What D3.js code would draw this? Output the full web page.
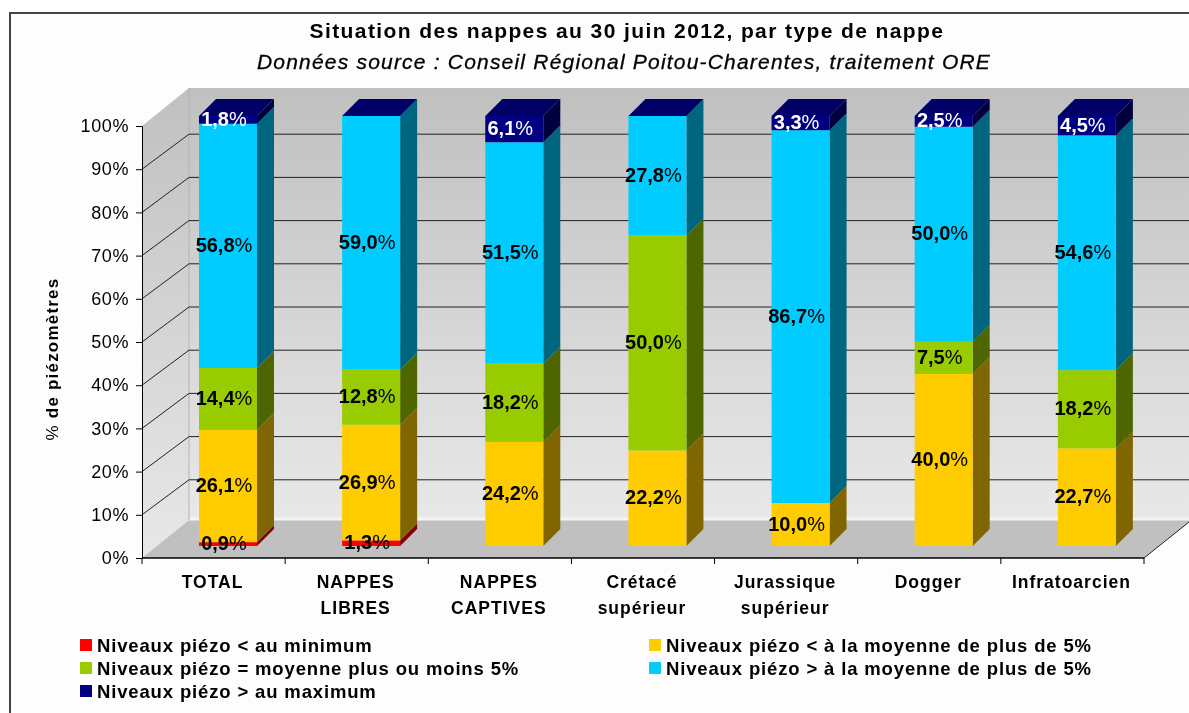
<!DOCTYPE html>
<html>
<head>
<meta charset="utf-8">
<script src="https://cdn.jsdelivr.net/npm/d3@7"></script>
<style>
  html, body { margin: 0; background: #fff; }
  svg { display: block; filter: blur(0.45px); }
  text { font-family: "Liberation Sans", Arial, sans-serif; fill: #000; }
</style>
</head>
<body>
<svg width="1189" height="713"></svg>
<script>
// données
const categories = [["TOTAL"], ["NAPPES", "LIBRES"], ["NAPPES", "CAPTIVES"], ["Crétacé", "supérieur"],
                    ["Jurassique", "supérieur"], ["Dogger"], ["Infratoarcien"]];
const sousMinimum = [0.9, 1.3, 0, 0, 0, 0, 0];
const sousMoyenne = [26.1, 26.9, 24.2, 22.2, 10.0, 40.0, 22.7];
const moyenne = [14.4, 12.8, 18.2, 50.0, 0, 7.5, 18.2];
const surMoyenne = [56.8, 59.0, 51.5, 27.8, 86.7, 50.0, 54.6];
const surMaximum = [1.8, 0, 6.1, 0, 3.3, 2.5, 4.5];
const seriesNames = ["Niveaux piézo < au minimum", "Niveaux piézo < à la moyenne de plus de 5%",
                     "Niveaux piézo = moyenne plus ou moins 5%", "Niveaux piézo > à la moyenne de plus de 5%",
                     "Niveaux piézo > au maximum"];
const seriesValues = [sousMinimum, sousMoyenne, moyenne, surMoyenne, surMaximum];
const colors = ["#ff0000", "#ffcc00", "#99cc00", "#00ccff", "#000080"];
const sideColors = ["#800000", "#806600", "#4d6600", "#006680", "#000040"];

const svg = d3.select("svg");

// cadre
svg.append("rect").attr("x", 10).attr("y", 13).attr("width", 1190).attr("height", 710)
   .attr("fill", "#fdfdfd").attr("stroke", "#444").attr("stroke-width", 2);

// echelles
const plotLeft = 142, plotRight = 1144, plotBottom = 558, plotTop = 126;
const depthX = 47, depthY = -38;
const barDepth = 17;
const x = d3.scaleBand().domain(d3.range(categories.length)).range([plotLeft, plotRight]);
const y = d3.scaleLinear().domain([0, 100]).range([plotBottom, plotTop]);
const yBar = d3.scaleLinear().domain([0, 100]).range([546, 116]);

const defs = svg.append("defs");
const grad = defs.append("linearGradient").attr("id", "wall").attr("x1", 0).attr("x2", 0).attr("y1", 0).attr("y2", 1);
grad.append("stop").attr("offset", 0).attr("stop-color", "#c0c0c0");
grad.append("stop").attr("offset", 1).attr("stop-color", "#e8e8e8");

// murs et sol
svg.append("path")
   .attr("d", `M${plotLeft},${plotTop}L${plotLeft + depthX},${plotTop + depthY}V${plotBottom + depthY}L${plotLeft},${plotBottom}Z`)
   .attr("fill", "url(#wall)");
svg.append("rect")
   .attr("x", plotLeft + depthX).attr("y", plotTop + depthY)
   .attr("width", 1189 - plotLeft - depthX).attr("height", plotBottom - plotTop)
   .attr("fill", "url(#wall)");
svg.append("path")
   .attr("d", `M${plotLeft},${plotBottom}L${plotLeft + depthX},${plotBottom + depthY}H1189V${plotBottom + depthY + 2}L${plotRight},${plotBottom}Z`)
   .attr("fill", "#c0c0c0");
svg.append("path")
   .attr("d", `M${plotLeft + depthX},${plotBottom + depthY - 1}H1189`)
   .attr("stroke", "#f4f4f4").attr("stroke-width", 3);
svg.append("path")
   .attr("d", `M${plotLeft + depthX},${plotTop + depthY}V${plotBottom + depthY}`)
   .attr("stroke", "#b4b4b4");

// lignes de grille
const ticks = d3.range(10, 101, 10);
svg.append("g").selectAll("path")
   .data(ticks.filter(t => t < 100))
   .enter()
   .append("path")
   .attr("d", t => `M${plotLeft},${y(t)}L${plotLeft + depthX},${y(t) + depthY + 3}H1189`)
   .attr("fill", "none")
   .attr("stroke", "#222")
   .attr("stroke-width", 1);

// barres empilees
categories.forEach((c, i) => {
  const bx = x(i) + 57;
  const bw = 58;
  let cum = 0;
  seriesValues.forEach((values, s) => {
    const y0 = yBar(cum);
    cum += values[i];
    const y1 = yBar(cum);
    svg.append("path")
       .attr("d", `M${bx + bw},${y0}L${bx + bw + barDepth},${y0 - barDepth}V${y1 - barDepth}L${bx + bw},${y1}Z`)
       .attr("fill", values[i] > 0 ? sideColors[s] : "none");
    svg.append("rect")
       .attr("x", bx).attr("y", y1)
       .attr("width", bw).attr("height", y0 - y1)
       .attr("fill", colors[s]);
  });
  svg.append("path")
     .attr("d", `M${bx},${yBar(cum)}L${bx + barDepth},${yBar(cum) - barDepth}H${bx + bw + barDepth}L${bx + bw},${yBar(cum)}Z`)
     .attr("fill", "#000066");
});

// etiquettes de valeur
categories.forEach((c, i) => {
  let cum = 0;
  seriesValues.forEach((values, s) => {
    const v = values[i];
    const mid = cum + v / 2;
    cum += v;
    if (v <= 0) return;
    const t = svg.append("text")
       .attr("x", x(i) + 82)
       .attr("y", yBar(mid) + 6)
       .attr("text-anchor", "middle")
       .style("font-size", "20px")
       .style("fill", s === 4 ? "#fff" : "#000");
    t.append("tspan").style("font-weight", "bold").text(d3.format(".1f")(v).replace(".", ","));
    t.append("tspan").text("%");
  });
});

// axes
const yAxis = d3.axisLeft(y).tickValues(d3.range(0, 101, 10)).tickFormat(d => d + "%").tickSize(6).tickPadding(7);
const gy = svg.append("g").attr("transform", `translate(${plotLeft},0)`).call(yAxis);
gy.selectAll("text").style("font-size", "18px").style("letter-spacing", "0.6px");
gy.selectAll("line,path").attr("stroke", "#000");

const gx = svg.append("g").attr("transform", `translate(0,${plotBottom})`);
gx.append("path").attr("d", `M${plotLeft},0H${plotRight}`).attr("stroke", "#000").attr("stroke-width", 1.5);
gx.selectAll("line")
  .data(d3.range(categories.length + 1))
  .enter()
  .append("line")
  .attr("x1", i => plotLeft + i * x.step()).attr("x2", i => plotLeft + i * x.step())
  .attr("y1", 0).attr("y2", 6)
  .attr("stroke", "#000");
svg.append("path")
   .attr("d", `M${plotRight},${plotBottom}L1189,${plotBottom - 36}`)
   .attr("stroke", "#222").attr("fill", "none");

categories.forEach((c, i) => {
  c.forEach((line, k) => {
    svg.append("text")
       .attr("x", x(i) + x.step() / 2 - 1)
       .attr("y", 588 + k * 26)
       .attr("text-anchor", "middle")
       .style("font-size", "17.5px")
       .style("font-weight", "bold")
       .style("letter-spacing", "1px")
       .text(line);
  });
});

// titres
svg.append("text").attr("x", 627).attr("y", 38).attr("text-anchor", "middle")
   .style("font-size", "21px").style("font-weight", "bold").style("letter-spacing", "1.4px")
   .text("Situation des nappes au 30 juin 2012, par type de nappe");
svg.append("text").attr("x", 624).attr("y", 69).attr("text-anchor", "middle")
   .style("font-size", "21px").style("font-style", "italic").style("letter-spacing", "1.2px")
   .style("stroke", "#000").style("stroke-width", "0.3px")
   .text("Données source : Conseil Régional Poitou-Charentes, traitement ORE");
const yTitle = svg.append("text")
   .attr("transform", "translate(58,359) rotate(-90)")
   .attr("text-anchor", "middle")
   .style("font-size", "17px")
   .style("letter-spacing", "1.2px");
yTitle.append("tspan").text("% ");
yTitle.append("tspan").style("font-weight", "bold").text("de piézomètres");

// legende
const legendPos = [[80, 652], [649, 652], [80, 675], [649, 675], [80, 698]];
seriesNames.forEach((name, s) => {
  svg.append("rect")
     .attr("x", legendPos[s][0]).attr("y", legendPos[s][1] - 13)
     .attr("width", 12).attr("height", 12)
     .attr("fill", colors[s]);
  svg.append("text")
     .attr("x", legendPos[s][0] + 17).attr("y", legendPos[s][1])
     .style("font-size", "18.5px")
     .style("font-weight", "bold")
     .style("letter-spacing", "0.85px")
     .text(name);
});
</script>
</body>
</html>
